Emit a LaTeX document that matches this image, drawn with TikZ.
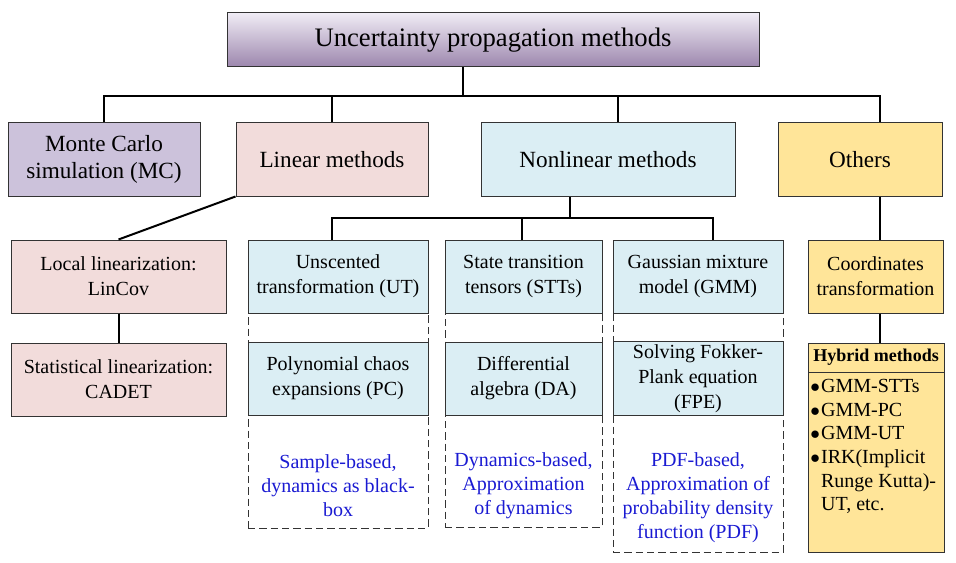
\documentclass[tikz,border=0pt]{standalone}
\usepackage{fontspec}
\setmainfont{Liberation Serif}
\definecolor{topA}{HTML}{F0ECF5}
\definecolor{topM}{HTML}{D9D0E2}
\definecolor{topB}{HTML}{9C86AD}
\definecolor{mcfill}{HTML}{CCC2DB}
\definecolor{linfill}{HTML}{F2DCDB}
\definecolor{nlfill}{HTML}{DBEEF4}
\definecolor{othfill}{HTML}{FFE599}
\definecolor{notecol}{HTML}{1A1AD2}
\newcommand{\hbul}{\makebox[8pt][l]{$\bullet$}}
\begin{document}
\begin{tikzpicture}[x=0.75pt,y=-0.75pt,
    box/.style={draw=black!80, line width=0.75pt, align=center, inner sep=2pt,
      minimum height=54.75pt, font=\fontsize{15}{18.75}\selectfont},
    bigbox/.style={box, font=\fontsize{17.4}{20}\selectfont},
    group/.style={draw=black!80, line width=0.75pt, dashed, dash pattern=on 5.5pt off 3pt},
    note/.style={align=center, text=notecol, font=\fontsize{15}{18}\selectfont},
    conn/.style={line width=1.5pt}]
  \useasboundingbox (0,0) rectangle (956,563);

  % root
  \node[box, minimum width=399pt, minimum height=40.5pt, top color=topA, middle color=topM,
    bottom color=topB, font=\fontsize{20}{24}\selectfont] (top) at (493,40) {Uncertainty propagation methods};

  % second level
  \node[bigbox, fill=mcfill, minimum width=144pt] (mc) at (104,159.5) {Monte Carlo\\simulation (MC)};
  \node[bigbox, fill=linfill, minimum width=144pt] (lin) at (332,159.5) {Linear methods};
  \node[bigbox, fill=nlfill, minimum width=190.5pt] (nl) at (608,159.5) {Nonlinear methods};
  \node[bigbox, fill=othfill, minimum width=123pt] (oth) at (860,159.5) {Others};

  % linear branch
  \node[box, fill=linfill, minimum width=161.25pt] (loc) at (118.5,276.5) {Local linearization:\\LinCov};
  \node[box, fill=linfill, minimum width=161.25pt] (stat) at (118.5,379.5) {Statistical linearization:\\CADET};

  % nonlinear branch
  \node[group, minimum width=135pt, minimum height=216pt] (grp1) at (338,384) {};
  \node[group, minimum width=117.75pt, minimum height=215.25pt] (grp2) at (523.5,383.5) {};
  \node[group, minimum width=127.5pt, minimum height=234pt] (grp3) at (698,396) {};

  \node[box, fill=nlfill, minimum width=135pt] (ut) at (338,276.5) {Unscented\\transformation (UT)};
  \node[box, fill=nlfill, minimum width=135pt] (pc) at (338,378.5) {Polynomial chaos\\expansions (PC)};
  \node[box, fill=nlfill, minimum width=117.75pt] (stt) at (523.5,276.5) {State transition\\tensors (STTs)};
  \node[box, fill=nlfill, minimum width=117.75pt] (da) at (523.5,378.5) {Differential\\algebra (DA)};
  \node[box, fill=nlfill, minimum width=127.5pt] (gmm) at (698,276.5) {Gaussian mixture\\model (GMM)};
  \node[box, fill=nlfill, minimum width=127.5pt] (fpe) at (698,378.5) {Solving Fokker-\\Plank equation\\(FPE)};

  \node[note] (n1) at (338,486) {Sample-based,\\dynamics as black-\\box};
  \node[note] (n2) at (523.5,486) {Dynamics-based,\\Approximation\\of dynamics};
  \node[note] (n3) at (698,498) {PDF-based,\\Approximation of\\probability density\\function (PDF)};

  % others branch
  \node[box, fill=othfill, minimum width=101.25pt] (ct) at (875.5,276.5) {Coordinates\\transformation};
  \node[draw=black!80, line width=0.75pt, fill=othfill, minimum width=102pt, minimum height=156.75pt] (hyb) at (876,447.5) {};
  \node[draw=black!80, line width=0.75pt, minimum width=102pt, minimum height=21.75pt,
    font=\fontsize{13.5}{16}\selectfont\bfseries] (hybh) at (876,357.5) {Hybrid methods};
  \node[anchor=north west, align=left, inner sep=2pt, yshift=-3pt, font=\fontsize{15}{17.7}\selectfont]
    (hybl) at (hybh.south west) {\hbul GMM-STTs\\\hbul GMM-PC\\\hbul GMM-UT\\
    \hbul IRK(Implicit\\\phantom{\hbul}Runge Kutta)-\\\phantom{\hbul}UT, etc.};

  % connectors
  \coordinate (busL) at (104,96);
  \coordinate (busT) at (463,96);
  \coordinate (busN) at (618,96);
  \coordinate (busR) at (880,96);
  \draw[conn] (busT) -- (top.south -| busT);
  \draw[conn] (mc.north) -- (busL) -- (busR) -- (oth.north -| busR);
  \draw[conn] (lin.north) -- (lin.north |- busL);
  \draw[conn] (busN) -- (nl.north -| busN);

  \draw[conn] (lin.south west) -- (loc.north);
  \draw[conn] (loc.south) -- (stat.north);

  \coordinate (nbL) at (332,218);
  \coordinate (nbC) at (570,218);
  \coordinate (nbM) at (522,218);
  \coordinate (nbR) at (713,218);
  \draw[conn] (nbC) -- (nl.south -| nbC);
  \draw[conn] (ut.north -| nbL) -- (nbL) -- (nbR) -- (gmm.north -| nbR);
  \draw[conn] (nbM) -- (stt.north -| nbM);

  \draw[conn] (oth.south -| busR) -- (ct.north -| busR);
  \draw[conn] (ct.south -| busR) -- (hybh.north -| busR);
\end{tikzpicture}
\end{document}
